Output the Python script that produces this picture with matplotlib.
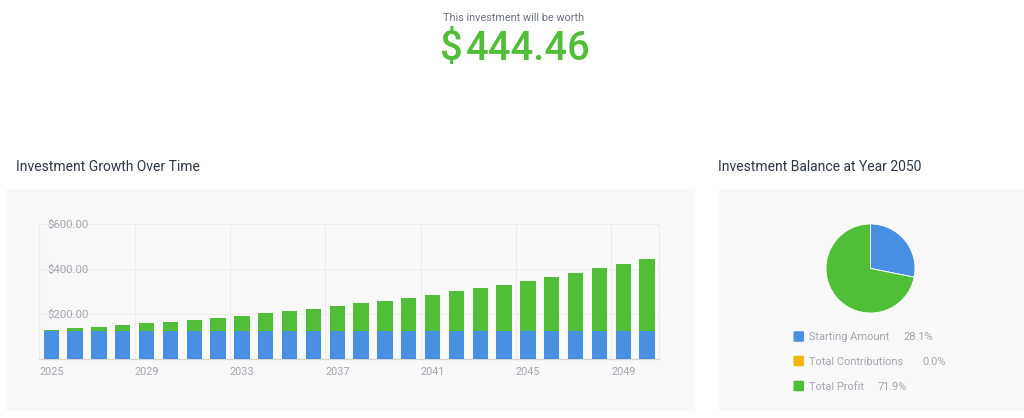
import matplotlib.pyplot as plt
from matplotlib.patches import Rectangle, FancyBboxPatch

plt.rcParams["font.family"] = ["Roboto", "DejaVu Sans"]

W, H = 1024, 418

COLORS = {
    "blue": "#4A90E2",
    "yellow": "#F2B705",
    "green": "#50BE37",
    "panel": "#F9F9F9",
    "grid": "#EDEDED",
    "axis": "#D5D5D5",
    "tick": "#A2A7B0",
    "title": "#2D3748",
    "subtitle": "#6B7280",
}

years = list(range(2025, 2051))
total_balance = [131.25, 137.81, 144.70, 151.94, 159.54, 167.51, 175.89, 184.68,
                 193.92, 203.61, 213.79, 224.48, 235.71, 247.49, 259.87, 272.86,
                 286.50, 300.83, 315.87, 331.66, 348.25, 365.66, 383.94, 403.14,
                 423.30, 444.46]
starting_amount = [125.00] * 26
contributions = [0.00] * 26
profit = [t - s - c for t, s, c in zip(total_balance, starting_amount, contributions)]

y_ticks = [200, 400, 600]
x_ticks = [2025, 2029, 2033, 2037, 2041, 2045, 2049]
pie_labels = ["Starting Amount", "Total Contributions", "Total Profit"]


def fx(x):
    return x / W


def fy(y):
    return 1 - y / H


fig = plt.figure(figsize=(W / 100, H / 100), dpi=100)
fig.patch.set_facecolor("white")

# painel cinza de fundo
for x0, x1 in [(6, 695), (719, 1024)]:
    fig.add_artist(Rectangle((fx(x0), fy(411)), fx(x1) - fx(x0), fy(189) - fy(411),
                             transform=fig.transFigure, facecolor=COLORS["panel"],
                             edgecolor="none", zorder=-5))

# cabecalho
fig.text(fx(514), fy(21), "This investment will be worth", ha="center", va="baseline",
         fontsize=7.8, color=COLORS["subtitle"])
fig.text(fx(463), fy(60), "$", ha="right", va="baseline",
         fontsize=28.7, fontweight="medium", color=COLORS["green"])
fig.text(fx(465.5), fy(60), f"{total_balance[-1]:.2f}", ha="left", va="baseline",
         fontsize=28.7, fontweight="medium", color=COLORS["green"])

fig.text(fx(15.5), fy(170.7), "Investment Growth Over Time", ha="left", va="baseline",
         fontsize=10, color=COLORS["title"])
fig.text(fx(718.3), fy(170.7), f"Investment Balance at Year {years[-1]}", ha="left",
         va="baseline", fontsize=10, color=COLORS["title"])

# grafico de barras
ax = fig.add_axes([fx(39.3), fy(359.3), fx(659) - fx(39.3), fy(224) - fy(359.3)])
ax.set_zorder(2)
ax.set_facecolor("none")
pos = [y + 0.5 for y in years]
ax.bar(pos, starting_amount, width=0.64, color=COLORS["blue"], zorder=3)
ax.bar(pos, contributions, width=0.64, bottom=starting_amount, color=COLORS["yellow"], zorder=3)
bottom2 = [s + c for s, c in zip(starting_amount, contributions)]
ax.bar(pos, profit, width=0.64, bottom=bottom2, color=COLORS["green"], zorder=3)

ax.set_xlim(2025, 2051)
ax.set_ylim(0, 600)
ax.set_xticks(x_ticks)
ax.set_xticklabels([str(t) for t in x_ticks], ha="left")
ax.set_yticks(y_ticks)
ax.set_yticklabels([f"${v:.2f}" for v in y_ticks], ha="left")
ax.tick_params(axis="both", length=0, colors=COLORS["tick"])
ax.tick_params(axis="x", pad=5.5, labelsize=7.8)
ax.tick_params(axis="y", pad=-5.8, labelsize=8.2)
ax.grid(True, color=COLORS["grid"], linewidth=0.8, zorder=0)
for lado in ["left", "right"]:
    ax.spines[lado].set_color(COLORS["grid"])
    ax.spines[lado].set_linewidth(0.8)
ax.spines["top"].set_visible(False)
ax.spines["bottom"].set_color(COLORS["axis"])
ax.spines["bottom"].set_linewidth(0.9)

# grafico de pizza
r = 44.5
cx, cy = 870.5, 268.5
ax_pie = fig.add_axes([fx(cx - r), fy(cy + r), fx(2 * r), fy(0) - fy(2 * r)])
ax_pie.set_zorder(2)
shares = [starting_amount[-1], contributions[-1], profit[-1]]
ax_pie.pie(shares, colors=[COLORS["blue"], COLORS["yellow"], COLORS["green"]],
           startangle=90, counterclock=False,
           wedgeprops=dict(linewidth=0.6, edgecolor="white"))
ax_pie.set_xlim(-1, 1)
ax_pie.set_ylim(-1, 1)
ax_pie.set_aspect("equal")
ax_pie.axis("off")

# legenda manual
renderer = fig.canvas.get_renderer()
total = sum(shares)
rows_y = [336.5, 361, 386]
gaps = [14.5, 19, 14]
for lbl, val, cor, yy, gap in zip(pie_labels, shares,
                                  [COLORS["blue"], COLORS["yellow"], COLORS["green"]],
                                  rows_y, gaps):
    fig.add_artist(FancyBboxPatch((fx(793.5), fy(yy + 5.3)), fx(10.6), fy(0) - fy(10.6),
                                  boxstyle="round,pad=0,rounding_size=0.002",
                                  transform=fig.transFigure, facecolor=cor,
                                  edgecolor="none", zorder=2))
    t = fig.text(fx(809), fy(yy), lbl, ha="left", va="center_baseline", fontsize=7.9,
                 color=COLORS["tick"])
    bb = t.get_window_extent(renderer=renderer)
    fig.text(fx(bb.x1 + gap), fy(yy), f"{val / total * 100:.1f}%", ha="left",
             va="center_baseline", fontsize=7.9, color=COLORS["tick"])

plt.savefig("out.png", dpi=100)
